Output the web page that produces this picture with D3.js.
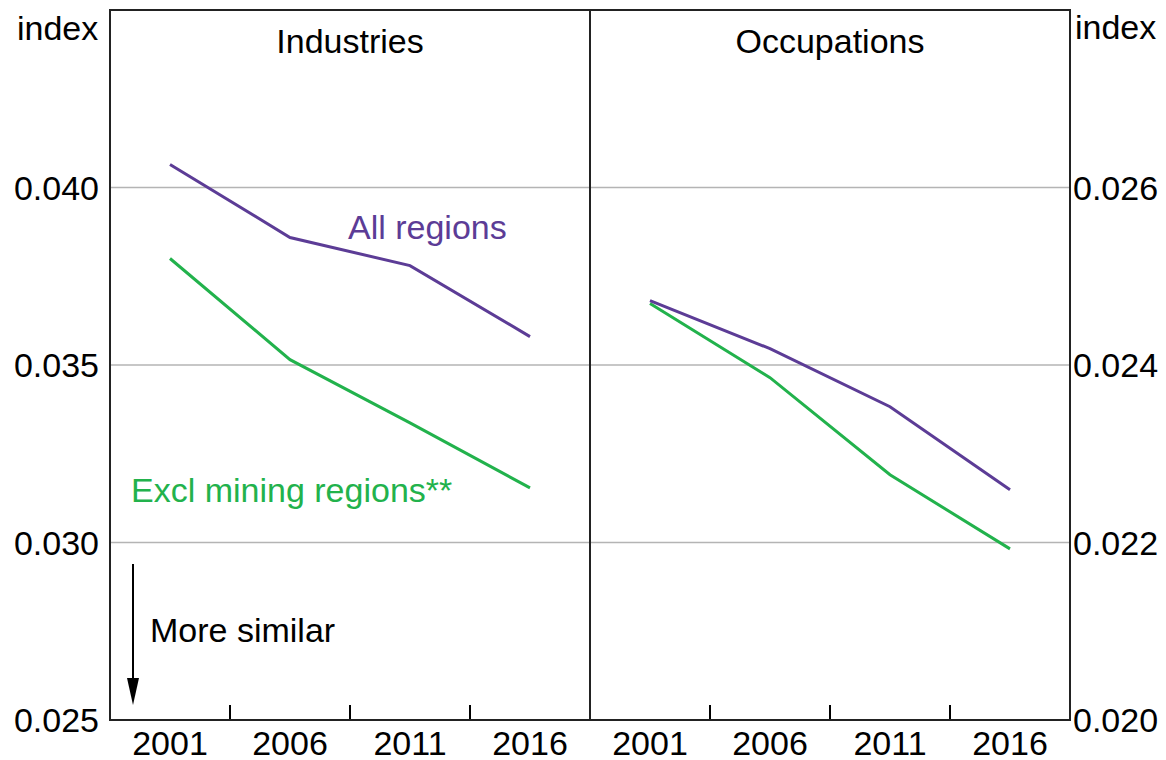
<!DOCTYPE html>
<html>
<head>
<meta charset="utf-8">
<script src="https://cdn.jsdelivr.net/npm/d3@7"></script>
<style>
  body { margin: 0; background: #fff; }
  text { font-family: "Liberation Sans", Arial, sans-serif; }
</style>
</head>
<body>
<svg id="chart" width="1166" height="760"></svg>
<script>
// data
var years = ['2001', '2006', '2011', '2016'];
var industriesAll = [0.04065, 0.03859, 0.03780, 0.03580];
var industriesExcl = [0.03800, 0.03515, 0.03337, 0.03154];
var occupationsAll = [0.024725, 0.024184, 0.023530, 0.022594];
var occupationsExcl = [0.024692, 0.023857, 0.022763, 0.021928];
var leftTicks = [0.025, 0.030, 0.035, 0.040];
var rightTicks = [0.020, 0.022, 0.024, 0.026];

var purple = '#5c3c96';
var green = '#22b24c';
var fontSize = 34;

var svg = d3.select('#chart');
var plotL = 110, plotR = 1070, plotT = 10, plotB = 720, mid = 590;

var yLeft = d3.scaleLinear().domain([0.025, 0.045]).range([plotB, plotT]);
var yRight = d3.scaleLinear().domain([0.020, 0.028]).range([plotB, plotT]);
var xLeft = d3.scaleBand().domain(years).range([plotL, mid]);
var xRight = d3.scaleBand().domain(years).range([mid, plotR]);

// gridlines
svg.append('g').selectAll('line')
  .data(leftTicks.slice(1))
  .enter().append('line')
  .attr('x1', plotL).attr('x2', plotR)
  .attr('y1', d => yLeft(d)).attr('y2', d => yLeft(d))
  .attr('stroke', '#b4b4b4').attr('stroke-width', 1.5);

// tick labels left
svg.append('g').selectAll('text')
  .data(leftTicks)
  .enter().append('text')
  .attr('x', 99).attr('y', d => yLeft(d))
  .attr('dy', '0.36em')
  .attr('text-anchor', 'end')
  .attr('font-size', fontSize)
  .text(d => d3.format('.3f')(d));

// tick labels right
svg.append('g').selectAll('text')
  .data(rightTicks)
  .enter().append('text')
  .attr('x', 1073).attr('y', d => yRight(d))
  .attr('dy', '0.36em')
  .attr('text-anchor', 'start')
  .attr('font-size', fontSize)
  .text(d => d3.format('.3f')(d));

svg.append('text').attr('x', 17).attr('y', 40).attr('font-size', fontSize).text('index');
svg.append('text').attr('x', 1075).attr('y', 39).attr('font-size', fontSize).text('index');

// x axes (labels only, band boundary ticks drawn separately)
[xLeft, xRight].forEach(function(x) {
  var ax = svg.append('g')
    .attr('transform', `translate(0,${plotB})`)
    .call(d3.axisBottom(x).tickSize(0).tickPadding(11));
  ax.select('.domain').remove();
  ax.selectAll('text')
    .attr('font-size', fontSize)
    .attr('font-family', '"Liberation Sans", Arial, sans-serif')
    .attr('fill', '#000');

  svg.append('g').selectAll('line')
    .data(years.slice(1))
    .enter().append('line')
    .attr('x1', d => x(d)).attr('x2', d => x(d))
    .attr('y1', plotB).attr('y2', plotB - 15)
    .attr('stroke', '#000').attr('stroke-width', 2);
});

// lines
var lineL = d3.line().x((d, i) => xLeft(years[i]) + xLeft.bandwidth() / 2).y(d => yLeft(d));
var lineR = d3.line().x((d, i) => xRight(years[i]) + xRight.bandwidth() / 2).y(d => yRight(d));

svg.append('path').datum(industriesExcl).attr('d', lineL)
  .attr('fill', 'none').attr('stroke', green).attr('stroke-width', 3);
svg.append('path').datum(industriesAll).attr('d', lineL)
  .attr('fill', 'none').attr('stroke', purple).attr('stroke-width', 3);
svg.append('path').datum(occupationsExcl).attr('d', lineR)
  .attr('fill', 'none').attr('stroke', green).attr('stroke-width', 3);
svg.append('path').datum(occupationsAll).attr('d', lineR)
  .attr('fill', 'none').attr('stroke', purple).attr('stroke-width', 3);

// frame
svg.append('rect')
  .attr('x', plotL).attr('y', plotT)
  .attr('width', plotR - plotL).attr('height', plotB - plotT)
  .attr('fill', 'none').attr('stroke', '#222').attr('stroke-width', 2);
svg.append('line')
  .attr('x1', mid).attr('x2', mid).attr('y1', plotT).attr('y2', plotB)
  .attr('stroke', '#222').attr('stroke-width', 2);

// panel titles
svg.append('text').attr('x', (plotL + mid) / 2).attr('y', 53)
  .attr('text-anchor', 'middle').attr('font-size', fontSize).text('Industries');
svg.append('text').attr('x', (mid + plotR) / 2).attr('y', 53)
  .attr('text-anchor', 'middle').attr('font-size', fontSize).text('Occupations');

// series labels
svg.append('text').attr('x', 348).attr('y', 239)
  .attr('font-size', fontSize).attr('fill', purple).text('All regions');
svg.append('text').attr('x', 131).attr('y', 502)
  .attr('font-size', fontSize).attr('fill', green).text('Excl mining regions**');

// arrow annotation
var arrowX = 133;
svg.append('line')
  .attr('x1', arrowX).attr('x2', arrowX)
  .attr('y1', 564).attr('y2', 685)
  .attr('stroke', '#000').attr('stroke-width', 2);
svg.append('path')
  .attr('d', `M${arrowX - 6},678 L${arrowX + 6},678 L${arrowX},705 Z`)
  .attr('fill', '#000');
svg.append('text').attr('x', 150).attr('y', 642)
  .attr('font-size', fontSize).text('More similar');
</script>
</body>
</html>
